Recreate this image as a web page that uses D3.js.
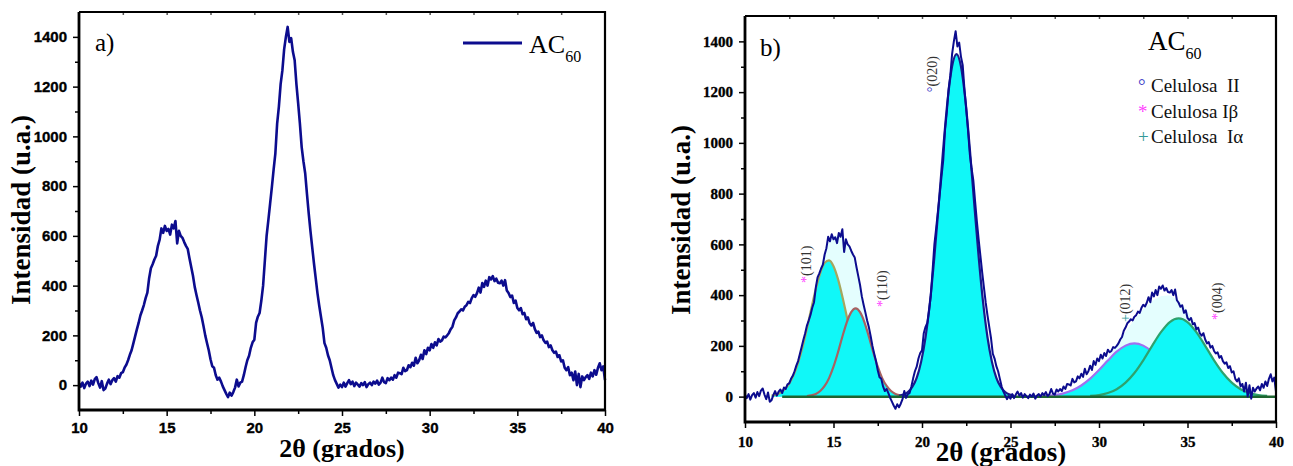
<!DOCTYPE html>
<html><head><meta charset="utf-8">
<script src="https://cdn.jsdelivr.net/npm/d3@7"></script>
<style>body{margin:0;background:#fff} svg{display:block}</style>
</head><body>
<svg id="chart" width="1293" height="466"></svg>
<script>
// ---------------- data ----------------
const angleStart = 10;      // 2θ of first sample
const angleStep = 0.1;      // sampling step in 2θ
const intensity = [
  8, -6, 10, -12, 6, 14, -4, 18, 2, 24,
  32, 8, -10, 16, -20, -14, 6, 22, 4, 20,
  28, 14, 36, 30, 48, 52, 70, 82, 100, 122,
  140, 168, 196, 224, 250, 280, 300, 322, 350, 372,
  430, 470, 486, 505, 520, 560, 585, 630, 612, 640,
  620, 628, 605, 645, 630, 660, 570, 620, 600, 592,
  575, 560, 548, 510, 475, 440, 395, 362, 332, 300,
  273, 238, 200, 169, 140, 104, 76, 70, 40, 22,
  30, 14, -5, -20, -35, -48, -30, -42, -28, -10,
  22, -5, 10, 14, 40, 72, 100, 118, 150, 172,
  182, 250, 275, 290, 340, 400, 500, 600, 663, 730,
  796, 866, 932, 1050, 1120, 1210, 1265, 1350, 1400, 1440,
  1380, 1395, 1340, 1306, 1210, 1133, 1050, 957, 900, 852,
  770, 691, 620, 555, 490, 430, 370, 320, 275, 230,
  169, 150, 120, 100, 70, 40, 20, 5, -10, 2,
  -8, 10, -6, 8, 20, 4, 14, -4, 10, 2,
  -6, 8, 0, 12, -8, 4, 10, 0, 14, 6,
  18, 2, 10, 30, 12, 8, 28, 20, 30, 22,
  40, 30, 50, 48, 44, 70, 56, 60, 80, 72,
  90, 78, 110, 88, 100, 122, 105, 140, 125, 150,
  140, 165, 150, 172, 160, 185, 175, 180, 195, 192,
  200, 210, 225, 235, 260, 272, 289, 296, 305, 300,
  315, 321, 335, 330, 350, 362, 355, 370, 392, 372,
  410, 395, 420, 400, 434, 425, 438, 418, 428, 412,
  410, 420, 400, 422, 380, 370, 354, 360, 330, 340,
  310, 301, 310, 285, 290, 265, 272, 249, 240, 250,
  225, 210, 215, 193, 200, 180, 170, 175, 153, 160,
  140, 130, 135, 113, 120, 95, 100, 70, 60, 72,
  40, 50, 20, 55, 0, 45, -8, 35, 20, 32,
  40, 25, 50, 35, 60, 42, 70, 88, 60, 75,
  20
];
const xTicks = [10, 15, 20, 25, 30, 35, 40];
const xMinorTicks = [12.5, 17.5, 22.5, 27.5, 32.5, 37.5];
const xTopTicks = [12.5, 15, 17.5, 20, 22.5, 25, 27.5, 30, 32.5, 35, 37.5];
const yTicks = [0, 200, 400, 600, 800, 1000, 1200, 1400];
const yMinorTicks = [100, 300, 500, 700, 900, 1100, 1300];

// fitted components (panel b)
const peakLabels = ["(101)", "(110)", "(020)", "(012)", "(004)"];
const peakStart = [11.5, 13.5, 18.7, 26.0, 29.5];
const peakStep = [0.25, 0.25, 0.25, 0.5, 0.5];
const peak101 = [4, 8, 16, 30, 52, 86, 134, 195, 268, 348, 424, 487, 527, 537, 514, 464, 395, 316, 238, 169, 113, 71, 42, 24, 12, 6, 3];
const peak110 = [2, 5, 10, 22, 42, 73, 118, 174, 236, 293, 333, 348, 333, 293, 236, 174, 118, 73, 42, 22, 10, 5, 2];
const peak020 = [3, 8, 18, 38, 74, 137, 234, 372, 552, 761, 978, 1170, 1302, 1350, 1302, 1170, 978, 761, 552, 372, 234, 137, 74, 38, 18, 8, 3];
const peak012 = [0, 1, 3, 6, 13, 25, 44, 71, 105, 142, 177, 201, 210, 201, 177, 142, 105, 71, 44, 25, 13, 6, 3, 1, 0];
const peak004 = [3, 6, 14, 29, 55, 93, 143, 200, 254, 294, 308, 294, 254, 200, 143, 93, 55, 29, 14, 6, 3];
const peakValues = [peak101, peak110, peak020, peak012, peak004];
const peakColors = ["#A6A65E", "#A86262", "#1A1A8C", "#A070F0", "#2EA26E"];

// annotations (panel b)
const annotSymbols = ["*", "*", "°", "+", "*"];
const annotColors = ["#FF40FF", "#FF40FF", "#4040C8", "#339999", "#FF40FF"];
const annotAngle = [13.73, 18.02, 20.85, 31.75, 36.95];
const annotIntensity = [448, 353, 1200, 294, 302];

const legendSymbols = ["°", "*", "+"];
const legendSymbolColors = ["#4040C8", "#FF40FF", "#339999"];
const legendNames = ["Celulosa  II", "Celulosa Iβ", "Celulosa  Iα"];

// ---------------- drawing ----------------
const svg = d3.select("#chart");
const SERIF = "'Liberation Serif','Times New Roman',serif";
const SANS = "'Liberation Sans',Arial,sans-serif";
const NAVY = "#0C0C8E";
const dataPts = intensity.map((v, i) => [angleStart + i * angleStep, v]);

function drawAxes(x, y, tickFont) {
  const [x0, x1] = x.range();
  const [y0, y1] = y.range();
  const g = svg.append("g");
  // minor ticks
  g.append("g").attr("transform", `translate(0,${y0})`)
    .call(d3.axisBottom(x).tickValues(xMinorTicks).tickSize(4).tickSizeOuter(0).tickFormat(""))
    .call(a => a.select(".domain").remove());
  g.append("g").attr("transform", `translate(${x0},0)`)
    .call(d3.axisLeft(y).tickValues(yMinorTicks).tickSize(4).tickSizeOuter(0).tickFormat(""))
    .call(a => a.select(".domain").remove());
  g.append("g").attr("transform", `translate(0,${y1})`)
    .call(d3.axisBottom(x).tickValues(xTopTicks).tickSize(3).tickSizeOuter(0).tickFormat(""))
    .call(a => a.select(".domain").remove())
    .selectAll("line").attr("stroke", "#555");
  // major
  const bx = g.append("g").attr("transform", `translate(0,${y0})`)
    .call(d3.axisBottom(x).tickValues(xTicks).tickSize(6).tickPadding(tickFont === SANS ? 6 : 8).tickSizeOuter(0).tickFormat(d3.format("d")));
  const ly = g.append("g").attr("transform", `translate(${x0},0)`)
    .call(d3.axisLeft(y).tickValues(yTicks).tickSize(6).tickPadding(6).tickSizeOuter(0).tickFormat(d3.format("d")));
  [bx, ly].forEach(a => {
    a.select(".domain").remove();
    a.attr("font-family", null).attr("font-size", null);
    a.selectAll("text")
      .style("font-family", tickFont).style("font-weight", "bold").style("font-size", "15px")
      .attr("fill", "#000").attr("stroke", "#000").attr("stroke-width", 0.35);
  });
  g.selectAll("line").attr("stroke-width", 1.5);
  // frame
  g.append("path")
    .attr("d", `M${x0},${y1}H${x1}V${y0}`)
    .attr("fill", "none").attr("stroke", "#000").attr("stroke-width", 2.2);
  g.append("path")
    .attr("d", `M${x0},${y1}V${y0}H${x1}`)
    .attr("fill", "none").attr("stroke", "#000").attr("stroke-width", 2.8);
}

function subLabel(xp, yp, main, sub, size, subSize) {
  const t = svg.append("text").attr("x", xp).attr("y", yp)
    .attr("font-family", SERIF).attr("font-size", size).attr("fill", "#000");
  t.append("tspan").text(main);
  t.append("tspan").attr("font-size", subSize).attr("dy", subSize * 0.55).text(sub);
}

// ---------- panel a ----------
{
  const x = d3.scaleLinear([10, 40], [79, 605]);
  const y = d3.scaleLinear([-100, 1500], [410, 12]);
  const line = d3.line().x(d => x(d[0])).y(d => y(d[1]));
  svg.append("path").datum(dataPts).attr("d", line)
    .attr("fill", "none").attr("stroke", NAVY).attr("stroke-width", 2.6).attr("stroke-linejoin", "round");
  drawAxes(x, y, SANS);
  svg.append("text").attr("x", 95).attr("y", 51).attr("font-family", SERIF).attr("font-size", 25).text("a)");
  svg.append("line").attr("x1", 463).attr("x2", 522).attr("y1", 43).attr("y2", 43)
    .attr("stroke", NAVY).attr("stroke-width", 3);
  subLabel(529, 53, "AC", "60", 26, 16);
  svg.append("text").attr("transform", "translate(30,210) rotate(-90)")
    .attr("text-anchor", "middle").attr("font-family", SERIF).attr("font-weight", "bold").attr("font-size", 27)
    .text("Intensidad (u.a.)");
  svg.append("text").attr("x", 342).attr("y", 457)
    .attr("text-anchor", "middle").attr("font-family", SERIF).attr("font-weight", "bold").attr("font-size", 26)
    .text("2θ (grados)");
}

// ---------- panel b ----------
{
  const x = d3.scaleLinear([10, 40], [745, 1276]);
  const y = d3.scaleLinear([-100, 1500], [422, 16]);
  const comps = peakValues.map((vals, k) => vals.map((v, i) => [peakStart[k] + i * peakStep[k], v]));
  const compAt = (pts, a) => {
    if (a < pts[0][0] || a > pts[pts.length - 1][0]) return 0;
    for (let i = 1; i < pts.length; i++) {
      if (a <= pts[i][0]) {
        const t = (a - pts[i - 1][0]) / (pts[i][0] - pts[i - 1][0]);
        return pts[i - 1][1] + t * (pts[i][1] - pts[i - 1][1]);
      }
    }
    return 0;
  };
  const grid = d3.range(11.5, 40.0001, 0.05);
  const cumulative = grid.map(a => [a, d3.sum(comps, c => compAt(c, a))]);

  const area = d3.area().x(d => x(d[0])).y0(y(0)).y1(d => y(d[1])).curve(d3.curveMonotoneX);
  const cline = d3.line().x(d => x(d[0])).y(d => y(d[1])).curve(d3.curveMonotoneX);

  svg.append("path").datum(cumulative).attr("d", area).attr("fill", "#E4FEFE");
  comps.forEach((c, k) => {
    svg.append("path").datum(c).attr("d", area).attr("fill", "#10F8F8");
    svg.append("path").datum(c).attr("d", cline).attr("fill", "none")
      .attr("stroke", peakColors[k]).attr("stroke-width", 2.2);
  });
  svg.append("line").attr("x1", x(12.1)).attr("x2", x(40)).attr("y1", y(0)).attr("y2", y(0))
    .attr("stroke", "#1E6430").attr("stroke-width", 2.5);

  const line = d3.line().x(d => x(d[0])).y(d => y(d[1]));
  svg.append("path").datum(dataPts).attr("d", line)
    .attr("fill", "none").attr("stroke", NAVY).attr("stroke-width", 2).attr("stroke-linejoin", "round");

  drawAxes(x, y, SERIF);

  // peak annotations
  peakLabels.forEach((lab, k) => {
    const t = svg.append("text")
      .attr("transform", `translate(${x(annotAngle[k])},${y(annotIntensity[k])}) rotate(-90)`)
      .attr("font-family", SERIF).attr("font-size", 14).attr("fill", "#333");
    t.append("tspan").attr("fill", annotColors[k]).text(annotSymbols[k]);
    t.append("tspan").text(lab);
  });

  svg.append("text").attr("x", 760).attr("y", 56).attr("font-family", SERIF).attr("font-size", 25).text("b)");
  subLabel(1148, 50, "AC", "60", 27, 16);
  legendNames.forEach((n, k) => {
    const yy = 92 + k * 25.5;
    svg.append("text").attr("x", 1138).attr("y", yy).attr("font-family", SERIF).attr("font-size", 19)
      .attr("fill", legendSymbolColors[k]).text(legendSymbols[k]);
    svg.append("text").attr("x", 1151).attr("y", yy).attr("font-family", SERIF).attr("font-size", 19)
      .style("white-space", "pre").attr("fill", "#111").text(n);
  });

  svg.append("text").attr("transform", "translate(690,220) rotate(-90)")
    .attr("text-anchor", "middle").attr("font-family", SERIF).attr("font-weight", "bold").attr("font-size", 27)
    .text("Intensidad (u.a.)");
  svg.append("text").attr("x", 1001).attr("y", 461)
    .attr("text-anchor", "middle").attr("font-family", SERIF).attr("font-weight", "bold").attr("font-size", 27)
    .text("2θ (grados)");
}
</script>
</body></html>
